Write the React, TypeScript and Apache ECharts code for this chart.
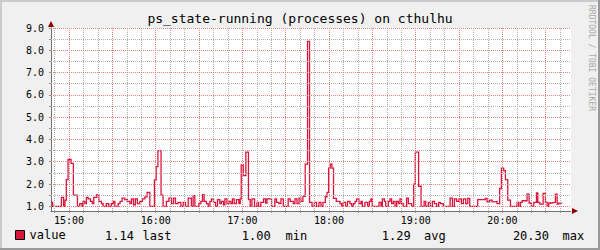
import React, { useEffect, useRef } from "react";
import * as echarts from "echarts";

const MONO = '"DejaVu Sans Mono", monospace';
const TITLE = "ps_state-running (processes) on cthulhu";
const WATERMARK = "RRDTOOL / TOBI OETIKER";
const SERIES_NAME = "value";
const LINE_COLOR = "#dc143c";

// minutes relative to 15:00 (start of each step)
const times = [
  -12.5, -11.4, -5.3, -3.8, -2.8, -1.9, -0.7, 1.4, 3.0, 5.8,
  7.4, 9.0, 9.7, 10.9, 12.0, 13.2, 14.8, 16.1, 17.1, 19.2,
  20.6, 22.4, 23.6, 25.8, 27.5, 29.3, 30.7, 31.7, 34.0, 35.3,
  36.7, 38.6, 40.4, 42.1, 43.2, 44.6, 45.9, 47.3, 49.0, 50.8,
  52.5, 54.0, 55.9, 59.1, 60.3, 61.5, 63.7, 65.1, 67.4, 69.1,
  70.9, 72.3, 73.7, 75.5, 77.4, 79.0, 80.6, 82.5, 84.7, 85.9,
  87.1, 89.9, 91.3, 92.4, 93.5, 95.1, 96.3, 97.5, 98.6, 100.0,
  101.4, 102.8, 104.4, 105.5, 106.9, 107.9, 109.3, 110.7, 112.0, 113.1,
  114.3, 115.9, 117.6, 118.5, 119.2, 120.6, 122.4, 124.2, 125.4, 126.6,
  128.4, 130.1, 131.2, 132.8, 134.6, 136.0, 137.0, 140.2, 142.5, 143.6,
  145.3, 146.7, 148.3, 151.7, 153.1, 155.2, 156.4, 157.8, 159.2, 160.5,
  161.9, 163.5, 165.1, 166.5, 168.2, 169.8, 171.3, 173.0, 174.4, 175.8,
  177.4, 178.6, 179.7, 180.8, 182.0, 183.1, 185.0, 187.6, 188.7, 189.8,
  191.4, 192.8, 194.5, 195.6, 196.8, 198.0, 199.1, 200.7, 202.1, 203.0,
  204.9, 206.7, 207.9, 209.0, 209.9, 214.6, 216.0, 216.9, 218.3, 219.2,
  221.0, 222.2, 223.3, 224.5, 225.7, 226.8, 228.0, 229.1, 230.2, 231.4,
  233.7, 234.9, 237.2, 238.6, 239.7, 242.0, 243.7, 245.8, 246.9, 248.7,
  250.1, 251.5, 252.9, 254.5, 255.9, 257.1, 259.1, 263.8, 265.4, 266.8,
  268.3, 270.0, 271.6, 273.0, 274.6, 276.0, 277.4, 282.9, 288.2, 289.4,
  291.2, 292.9, 294.5, 296.3, 298.1, 299.3, 300.9, 302.1, 303.7, 305.6,
  310.2, 311.3, 312.5, 313.7, 317.1, 318.5, 320.1, 321.7, 323.6, 324.5,
  325.9, 328.2, 329.8, 331.0, 332.1, 334.4, 336.7, 337.9, 339.0, 341.4,
];

const values = [
  1.18, 1.0, 1.4, 1.0, 1.28, 2.2, 3.1, 2.93, 1.5, 1.0,
  1.12, 1.0, 1.22, 1.12, 1.4, 1.33, 1.22, 1.12, 1.4, 1.52,
  1.22, 1.12, 1.0, 1.12, 1.0, 1.12, 1.22, 1.0, 1.12, 1.22,
  1.37, 1.3, 1.22, 1.12, 1.33, 1.07, 1.33, 1.12, 1.22, 1.33,
  1.42, 1.63, 1.0, 2.18, 2.78, 3.5, 1.5, 1.0, 1.22, 1.37,
  1.12, 1.37, 1.12, 1.18, 1.0, 1.18, 1.0, 1.37, 1.0, 1.48,
  1.0, 1.12, 1.22, 1.52, 1.22, 1.12, 1.0, 1.22, 1.33, 1.18,
  1.0, 1.3, 1.12, 1.22, 1.07, 1.33, 1.12, 1.22, 1.12, 1.33,
  1.12, 1.3, 1.12, 1.33, 2.86, 2.38, 3.43, 1.3, 1.0, 1.33,
  1.0, 1.18, 1.0, 1.18, 1.33, 1.15, 1.33, 1.0, 1.33, 1.18,
  1.12, 1.33, 1.0, 1.33, 1.22, 1.12, 1.33, 1.12, 1.37, 1.22,
  1.45, 2.89, 8.4, 1.18, 1.0, 1.18, 1.0, 1.18, 1.0, 1.18,
  1.43, 1.63, 2.71, 2.89, 2.71, 1.36, 1.22, 1.12, 1.0, 1.18,
  1.0, 1.22, 1.12, 1.0, 1.12, 1.22, 1.33, 1.12, 1.22, 1.0,
  1.18, 1.0, 1.22, 1.33, 1.0, 1.18, 1.0, 1.33, 1.22, 1.0,
  1.22, 1.33, 1.12, 1.22, 1.0, 1.22, 1.12, 1.33, 1.12, 1.0,
  1.37, 1.12, 1.0, 2.0, 3.43, 1.9, 1.0, 1.22, 1.0, 1.18,
  1.0, 1.22, 1.12, 1.0, 1.18, 1.12, 1.0, 1.37, 1.0, 1.33,
  1.22, 1.33, 1.12, 1.33, 1.12, 1.36, 1.0, 1.3, 1.36, 1.2,
  1.28, 1.2, 1.22, 1.12, 1.8, 2.71, 2.6, 2.2, 1.28, 1.0,
  1.18, 1.0, 1.18, 1.25, 1.55, 1.15, 1.0, 1.18, 1.6, 1.18,
  1.1, 1.58, 1.18, 1.0, 1.15, 1.18, 1.55, 1.1, 1.14, 1.14,
];

const X_MIN = -12.5;
const X_MAX = 347.5;
const Y_MIN = 0.79;
const Y_MAX = 9.0;

const yLabelValues = [1, 2, 3, 4, 5, 6, 7, 8, 9];
const yMinorValues = [1.5, 2.5, 3.5, 4.5, 5.5, 6.5, 7.5, 8.5];
const xLabelMinutes = [0, 60, 120, 180, 240, 300];
const xLabelTexts = ["15:00", "16:00", "17:00", "18:00", "19:00", "20:00"];
const xMajorMinutes = [0, 30, 60, 90, 120, 150, 180, 210, 240, 270, 300, 330];
const xMinorMinutes = [-10, 10, 20, 40, 50, 70, 80, 100, 110, 130, 140, 160, 170, 190, 200, 220, 230, 250, 260, 280, 290, 310, 320, 340];

const statLabels = ["last", "min", "avg", "max"];
const statValues = ["1.14", "1.00", "1.29", "20.30"];
const statValueRight = [134, 270.7, 410.7, 549];
const statLabelLeft = [142.5, 285.5, 424, 562.5];

export default function App() {
  const ref = useRef<HTMLDivElement>(null);

  useEffect(() => {
    const chart = echarts.init(ref.current!, null, { renderer: "svg" });
    const data = times.map((t, i) => [t, values[i]]);

    const minorStyle = { color: "#b0b0b0", width: 1, type: [1, 1] };
    const majorStyle = { color: "#e88080", width: 1, type: [1, 1] };
    const gridLines: any[] = [
      ...yMinorValues.map((v) => ({ yAxis: v, lineStyle: minorStyle })),
      ...xMinorMinutes.map((v) => ({ xAxis: v, lineStyle: minorStyle })),
      ...yLabelValues.map((v) => ({ yAxis: v, lineStyle: majorStyle })),
      ...xMajorMinutes.map((v) => ({ xAxis: v, lineStyle: majorStyle })),
    ];

    const graphic: any[] = [
      { type: "rect", shape: { x: 0, y: 0, width: 600, height: 2 }, style: { fill: "#cbcbcb" }, silent: true },
      { type: "rect", shape: { x: 0, y: 0, width: 2, height: 250 }, style: { fill: "#cbcbcb" }, silent: true },
      { type: "rect", shape: { x: 0, y: 248, width: 600, height: 2 }, style: { fill: "#999999" }, silent: true },
      { type: "rect", shape: { x: 598, y: 0, width: 2, height: 250 }, style: { fill: "#999999" }, silent: true },
      { type: "polygon", shape: { points: [[48, 27], [51, 21], [54, 27]] }, style: { fill: "#8b0000" }, silent: true, z: 100 },
      { type: "polygon", shape: { points: [[572, 208], [578, 211], [572, 214]] }, style: { fill: "#8b0000" }, silent: true, z: 100 },
      {
        type: "text",
        x: 591,
        y: 5,
        rotation: -Math.PI / 2,
        silent: true,
        style: { text: WATERMARK, font: `8px ${MONO}`, fill: "#a8a8a8", textAlign: "left", textVerticalAlign: "middle" },
      },
    ];
    statValues.forEach((v, i) => {
      graphic.push({
        type: "text", x: statValueRight[i], y: 236, silent: true,
        style: { text: v, font: `12px ${MONO}`, fill: "#000", textAlign: "right", textVerticalAlign: "middle" },
      });
      graphic.push({
        type: "text", x: statLabelLeft[i], y: 236, silent: true,
        style: { text: statLabels[i], font: `12px ${MONO}`, fill: "#000", textAlign: "left", textVerticalAlign: "middle" },
      });
    });

    chart.setOption({
      animation: false,
      backgroundColor: "#f0f0f0",
      textStyle: { fontFamily: MONO },
      title: {
        text: TITLE,
        left: "center",
        top: 12,
        padding: 0,
        textStyle: { fontFamily: MONO, fontSize: 13, fontWeight: "normal", color: "#000" },
      },
      legend: {
        data: [{ name: SERIES_NAME, icon: "rect" }],
        left: 15,
        top: 229,
        padding: 0,
        itemWidth: 9,
        itemHeight: 9,
        selectedMode: false,
        itemStyle: { color: LINE_COLOR, borderColor: "#000", borderWidth: 1 },
        textStyle: { fontFamily: MONO, fontSize: 12, color: "#000" },
      },
      grid: {
        left: 51,
        right: 29,
        top: 28,
        bottom: 39,
        show: true,
        backgroundColor: "#ffffff",
        borderWidth: 0,
      },
      xAxis: {
        type: "value",
        min: X_MIN,
        max: X_MAX,
        splitLine: { show: false },
        axisLine: { show: true, onZero: false, lineStyle: { color: "#707070", width: 1 } },
        axisTick: {
          show: true,
          customValues: [...xMinorMinutes, ...xMajorMinutes].sort((a, b) => a - b),
          length: 2,
          lineStyle: { color: "#909090" },
        },
        axisLabel: {
          customValues: xLabelMinutes,
          formatter: (v: number) => xLabelTexts[xLabelMinutes.indexOf(Math.round(v))] ?? "",
          fontFamily: MONO,
          fontSize: 10,
          color: "#000",
          margin: 4,
        },
      },
      yAxis: {
        type: "value",
        min: Y_MIN,
        max: Y_MAX,
        splitLine: { show: false },
        axisLine: { show: true, onZero: false, lineStyle: { color: "#707070", width: 1 } },
        axisTick: {
          show: true,
          customValues: [...yLabelValues, ...yMinorValues].sort((a, b) => a - b),
          length: 2,
          lineStyle: { color: "#909090" },
        },
        axisLabel: {
          customValues: yLabelValues,
          formatter: (v: number) => v.toFixed(1),
          fontFamily: MONO,
          fontSize: 10,
          color: "#000",
          margin: 7,
        },
      },
      series: [
        {
          type: "line",
          name: "grid",
          data: [],
          silent: true,
          z: 1,
          markLine: {
            silent: true,
            symbol: ["none", "none"],
            label: { show: false },
            animation: false,
            data: gridLines,
          },
        },
        {
          type: "line",
          name: SERIES_NAME,
          data,
          step: "end",
          showSymbol: false,
          symbol: "none",
          z: 3,
          lineStyle: { color: LINE_COLOR, width: 1.3, join: "miter" },
          itemStyle: { color: LINE_COLOR },
        },
      ],
      graphic,
    });

    return () => chart.dispose();
  }, []);

  return (
    <div
      ref={ref}
      style={{ position: "fixed", left: 0, top: 0, width: 600, height: 250 }}
    />
  );
}
